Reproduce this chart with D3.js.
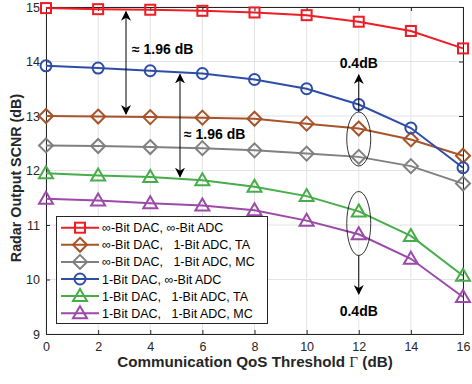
<!DOCTYPE html>
<html>
<head>
<meta charset="utf-8">
<script src="https://cdn.jsdelivr.net/npm/d3@7"></script>
<style>
  body { margin: 0; background: #fff; }
  text { font-family: "Liberation Sans", Arial, sans-serif; }
</style>
</head>
<body>
<div id="chart"></div>
<script>
var width = 472, height = 384;

// data
var thresholds = [0, 2, 4, 6, 8, 10, 12, 14, 16];
var infDacInfAdc = [14.98, 14.96, 14.95, 14.93, 14.90, 14.85, 14.73, 14.56, 14.24];
var infDac1AdcTA = [13.00, 12.99, 12.98, 12.97, 12.95, 12.86, 12.77, 12.57, 12.27];
var infDac1AdcMC = [12.46, 12.45, 12.43, 12.41, 12.37, 12.31, 12.25, 12.08, 11.76];
var oneDacInfAdc = [13.92, 13.88, 13.83, 13.78, 13.67, 13.50, 13.21, 12.78, 12.05];
var oneDac1AdcTA = [11.95, 11.91, 11.88, 11.82, 11.70, 11.53, 11.25, 10.80, 10.07];
var oneDac1AdcMC = [11.48, 11.45, 11.40, 11.36, 11.27, 11.08, 10.83, 10.38, 9.68];
var xTicks = [0, 2, 4, 6, 8, 10, 12, 14, 16];
var yTicks = [9, 10, 11, 12, 13, 14, 15];

var series = [
  {name: "\u221E-Bit DAC, \u221E-Bit ADC", values: infDacInfAdc, color: "#ee1c25", marker: "square"},
  {name: "\u221E-Bit DAC,   1-Bit ADC, TA", values: infDac1AdcTA, color: "#a8542a", marker: "diamond"},
  {name: "\u221E-Bit DAC,   1-Bit ADC, MC", values: infDac1AdcMC, color: "#808080", marker: "diamond"},
  {name: "1-Bit DAC, \u221E-Bit ADC", values: oneDacInfAdc, color: "#2e4da7", marker: "circle"},
  {name: "1-Bit DAC,   1-Bit ADC, TA", values: oneDac1AdcTA, color: "#46ad49", marker: "triangle"},
  {name: "1-Bit DAC,   1-Bit ADC, MC", values: oneDac1AdcMC, color: "#9b4aa8", marker: "triangle"}
];

var margin = {left: 46, right: 9, top: 7, bottom: 50};
var x = d3.scaleLinear().domain([0, 16]).range([margin.left, width - margin.right]);
var y = d3.scaleLinear().domain([9, 15]).range([height - margin.bottom, margin.top]);

var svg = d3.select("#chart").append("svg")
  .attr("width", width).attr("height", height);

var defs = svg.append("defs");
defs.append("marker")
  .attr("id", "ah").attr("viewBox", "0 0 10 10")
  .attr("refX", 9).attr("refY", 5)
  .attr("markerWidth", 10).attr("markerHeight", 10)
  .attr("markerUnits", "userSpaceOnUse")
  .attr("orient", "auto-start-reverse")
  .append("path").attr("d", "M0,0 L10,5 L0,10 L3,5 Z").attr("fill", "#000");

// grid
svg.append("g").selectAll("line").data(xTicks).join("line")
  .attr("x1", d => x(d)).attr("x2", d => x(d))
  .attr("y1", y(9)).attr("y2", y(15))
  .attr("stroke", "#e3e3e3").attr("stroke-width", 1);
svg.append("g").selectAll("line").data(yTicks).join("line")
  .attr("x1", x(0)).attr("x2", x(16))
  .attr("y1", d => y(d)).attr("y2", d => y(d))
  .attr("stroke", "#e3e3e3").attr("stroke-width", 1);

// axes
var xAxis = svg.append("g").attr("transform", "translate(0," + y(9) + ")")
  .call(d3.axisBottom(x).tickValues(xTicks).tickSize(-4).tickPadding(8).tickFormat(d3.format("d")));
var xTop = svg.append("g").attr("transform", "translate(0," + y(15) + ")")
  .call(d3.axisTop(x).tickValues(xTicks).tickSize(-4).tickFormat(""));
var yAxis = svg.append("g").attr("transform", "translate(" + x(0) + ",0)")
  .call(d3.axisLeft(y).tickValues(yTicks).tickSize(-4).tickPadding(6).tickFormat(d3.format("d")));
var yRight = svg.append("g").attr("transform", "translate(" + x(16) + ",0)")
  .call(d3.axisRight(y).tickValues(yTicks).tickSize(-4).tickFormat(""));
[xAxis, xTop, yAxis, yRight].forEach(function(g) {
  g.select(".domain").attr("stroke", "#262626").attr("stroke-width", 1);
  g.selectAll(".tick line").attr("stroke", "#262626");
  g.selectAll("text").attr("fill", "#262626").style("font-size", "12.5px")
    .style("font-family", "Liberation Sans, Arial, sans-serif");
});

// markers
function drawMarker(g, type, cx, cy, color) {
  if (type === "square") {
    g.append("rect").attr("x", cx - 5).attr("y", cy - 5).attr("width", 10).attr("height", 10)
      .attr("fill", "none").attr("stroke", color).attr("stroke-width", 2);
  } else if (type === "circle") {
    g.append("circle").attr("cx", cx).attr("cy", cy).attr("r", 5.5)
      .attr("fill", "none").attr("stroke", color).attr("stroke-width", 2);
  } else if (type === "diamond") {
    g.append("path").attr("d", "M" + cx + "," + (cy - 7) + "L" + (cx + 7) + "," + cy + "L" + cx + "," + (cy + 7) + "L" + (cx - 7) + "," + cy + "Z")
      .attr("fill", "none").attr("stroke", color).attr("stroke-width", 2);
  } else if (type === "triangle") {
    g.append("path").attr("d", "M" + cx + "," + (cy - 7) + "L" + (cx + 7) + "," + (cy + 5) + "L" + (cx - 7) + "," + (cy + 5) + "Z")
      .attr("fill", "none").attr("stroke", color).attr("stroke-width", 2);
  }
}

var line = d3.line().x((d, i) => x(thresholds[i])).y(d => y(d));
series.forEach(function(s) {
  var g = svg.append("g");
  g.append("path").datum(s.values).attr("d", line)
    .attr("fill", "none").attr("stroke", s.color).attr("stroke-width", 2);
  s.values.forEach(function(v, i) { drawMarker(g, s.marker, x(thresholds[i]), y(v), s.color); });
});

// annotations
var ann = svg.append("g");
ann.append("line").attr("x1", 126).attr("x2", 126).attr("y1", y(14.95) + 2).attr("y2", y(13.0) - 2)
  .attr("stroke", "#000").attr("stroke-width", 1)
  .attr("marker-start", "url(#ah)").attr("marker-end", "url(#ah)");
ann.append("text").attr("x", 132).attr("y", 54).text("\u2248 1.96 dB")
  .style("font-size", "14px").style("font-weight", "bold");
ann.append("line").attr("x1", 180).attr("x2", 180).attr("y1", y(13.8) + 2).attr("y2", y(11.85) - 2)
  .attr("stroke", "#000").attr("stroke-width", 1)
  .attr("marker-start", "url(#ah)").attr("marker-end", "url(#ah)");
ann.append("text").attr("x", 184).attr("y", 139).text("\u2248 1.96 dB")
  .style("font-size", "14px").style("font-weight", "bold");

var ex = x(12);
ann.append("ellipse").attr("cx", ex).attr("cy", 139).attr("rx", 12).attr("ry", 27)
  .attr("fill", "none").attr("stroke", "#000").attr("stroke-width", 0.8);
ann.append("line").attr("x1", ex).attr("x2", ex).attr("y1", 112).attr("y2", 75)
  .attr("stroke", "#000").attr("stroke-width", 1).attr("marker-end", "url(#ah)");
ann.append("text").attr("x", ex).attr("y", 68).attr("text-anchor", "middle").text("0.4dB")
  .style("font-size", "14px").style("font-weight", "bold");
ann.append("ellipse").attr("cx", ex).attr("cy", 223.5).attr("rx", 12).attr("ry", 32)
  .attr("fill", "none").attr("stroke", "#000").attr("stroke-width", 0.8);
ann.append("line").attr("x1", ex).attr("x2", ex).attr("y1", 255.5).attr("y2", 294)
  .attr("stroke", "#000").attr("stroke-width", 1).attr("marker-end", "url(#ah)");
ann.append("text").attr("x", ex).attr("y", 316).attr("text-anchor", "middle").text("0.4dB")
  .style("font-size", "14px").style("font-weight", "bold");

// legend
var lg = svg.append("g");
lg.append("rect").attr("x", 56.5).attr("y", 216.5).attr("width", 211).attr("height", 107)
  .attr("fill", "#fff").attr("stroke", "#262626").attr("stroke-width", 1);
series.forEach(function(s, i) {
  var ly = 227.7 + i * 17.1;
  lg.append("line").attr("x1", 61).attr("x2", 99).attr("y1", ly).attr("y2", ly)
    .attr("stroke", s.color).attr("stroke-width", 2);
  drawMarker(lg, s.marker, 80, ly, s.color);
  lg.append("text").attr("x", 102).attr("y", ly + 4.5).text(s.name)
    .style("font-size", "12.5px").style("white-space", "pre").attr("fill", "#000");
});

// axis labels
var xl = svg.append("text").attr("x", 255).attr("y", 367).attr("text-anchor", "middle")
  .style("font-size", "15.2px").style("font-weight", "bold").attr("fill", "#262626");
xl.append("tspan").text("Communication QoS Threshold ");
xl.append("tspan").text("\u0393").style("font-family", "Liberation Serif, Times New Roman, serif").style("font-weight", "normal");
xl.append("tspan").text(" (dB)");
svg.append("text").attr("transform", "translate(21,178) rotate(-90)")
  .attr("text-anchor", "middle")
  .style("font-size", "14.3px").style("font-weight", "bold").attr("fill", "#262626")
  .text("Radar Output SCNR (dB)");
</script>
</body>
</html>
